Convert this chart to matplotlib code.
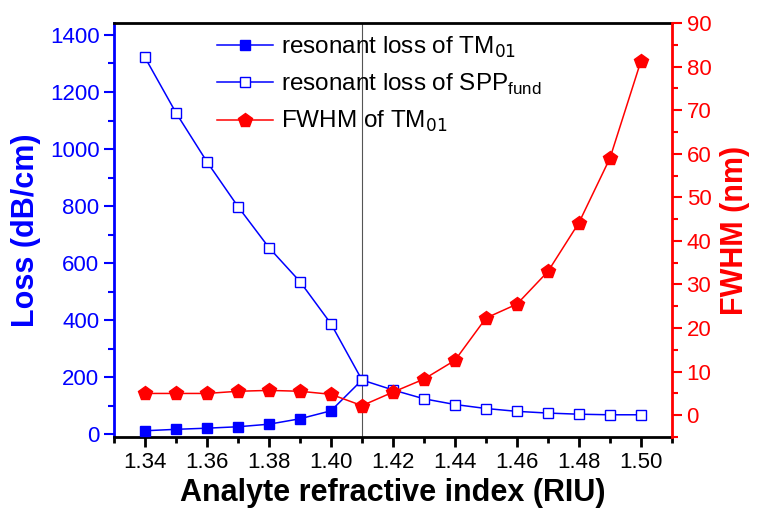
import matplotlib.pyplot as plt
from matplotlib.ticker import MultipleLocator

plt.rcParams["font.family"] = ["Liberation Sans", "DejaVu Sans"]

# refractive index steps
n_tm = [1.34, 1.35, 1.36, 1.37, 1.38, 1.39, 1.40, 1.41]
loss_tm = [12, 17, 21, 26, 35, 54, 82, 190]

n_spp = [1.34, 1.35, 1.36, 1.37, 1.38, 1.39, 1.40, 1.41, 1.42,
         1.43, 1.44, 1.45, 1.46, 1.47, 1.48, 1.49, 1.50]
loss_spp = [1321, 1127, 955, 798, 654, 535, 387, 190, 155,
            124, 104, 90, 80, 74, 70, 68, 68]

n_fwhm = n_spp
fwhm = [5.0, 5.0, 5.0, 5.5, 5.7, 5.5, 4.8, 2.2, 5.3,
        8.3, 12.6, 22.3, 25.5, 33.0, 44.2, 59.0, 81.3]

xticks = [1.34, 1.36, 1.38, 1.40, 1.42, 1.44, 1.46, 1.48, 1.50]

fig = plt.figure(figsize=(7.57, 5.13), dpi=100)
ax = fig.add_axes([0.1506, 0.1481, 0.7371, 0.8071])
ax2 = ax.twinx()

l1, = ax.plot(n_tm, loss_tm, "-s", color="blue", ms=7.5, lw=1.1,
              mfc="blue", mec="blue", label="resonant loss of TM$_{01}$", zorder=3)
l2, = ax.plot(n_spp, loss_spp, "-s", color="blue", ms=7.5, lw=1.1,
              mfc="white", mec="blue", mew=1.0,
              label="resonant loss of SPP$_{\\mathregular{fund}}$", zorder=4)
l3, = ax2.plot(n_fwhm, fwhm, "-p", color="red", ms=10.5, lw=1.1,
               mfc="red", mec="red", label="FWHM of TM$_{01}$")

ax.axvline(1.41, color="#555555", lw=0.8, zorder=1)

ax.set_xlim(1.33, 1.51)
ax.set_ylim(-10, 1442)
ax2.set_ylim(-5, 90)

ax.set_xticks(xticks)
ax.set_xticklabels([f"{x:.2f}" for x in xticks])
ax.xaxis.set_minor_locator(MultipleLocator(0.01))
ax.yaxis.set_major_locator(MultipleLocator(200))
ax.yaxis.set_minor_locator(MultipleLocator(100))
ax2.yaxis.set_major_locator(MultipleLocator(10))
ax2.yaxis.set_minor_locator(MultipleLocator(5))

# bottom ticks point out, top ticks (drawn by the twin) point in
ax.tick_params(axis="x", which="major", direction="out", length=7, width=2,
               labelsize=16, top=False, color="black")
ax.tick_params(axis="x", which="minor", direction="out", length=4, width=2,
               top=False, color="black")
ax2.tick_params(axis="x", which="major", direction="in", length=7, width=2,
                top=True, bottom=False, labeltop=False, labelbottom=False)
ax2.tick_params(axis="x", which="minor", direction="in", length=7, width=2,
                top=True, bottom=False)
ax.tick_params(axis="y", which="major", direction="out", length=7, width=1.5,
               labelsize=16, colors="blue")
ax.tick_params(axis="y", which="minor", direction="out", length=4, width=1.5,
               colors="blue")
ax2.tick_params(axis="y", which="major", direction="out", length=7, width=1.5,
                labelsize=16, colors="red")
ax2.tick_params(axis="y", which="minor", direction="out", length=4, width=1.5,
                colors="red")

for s in ["top", "bottom"]:
    ax.spines[s].set_linewidth(2)
ax.spines["left"].set_color("blue")
ax.spines["left"].set_linewidth(2)
ax2.spines["left"].set_visible(False)
ax2.spines["top"].set_visible(False)
ax2.spines["bottom"].set_visible(False)
ax2.spines["right"].set_color("red")
ax2.spines["right"].set_linewidth(2)
ax.spines["right"].set_visible(False)

ax.set_xlabel("Analyte refractive index (RIU)", fontsize=22, fontweight="bold",
              labelpad=4)
ax.set_ylabel("Loss (dB/cm)", fontsize=22, fontweight="bold", color="blue",
              labelpad=6)
ax2.set_ylabel("FWHM (nm)", fontsize=22, fontweight="bold", color="red",
               labelpad=6)

ax.legend(handles=[l1, l2, l3], loc="upper left", bbox_to_anchor=(0.145, 1.025),
          frameon=False, fontsize=17.5, handlelength=2.3, labelspacing=0.5,
          handletextpad=0.35)

fig.savefig("out.png", dpi=100)
